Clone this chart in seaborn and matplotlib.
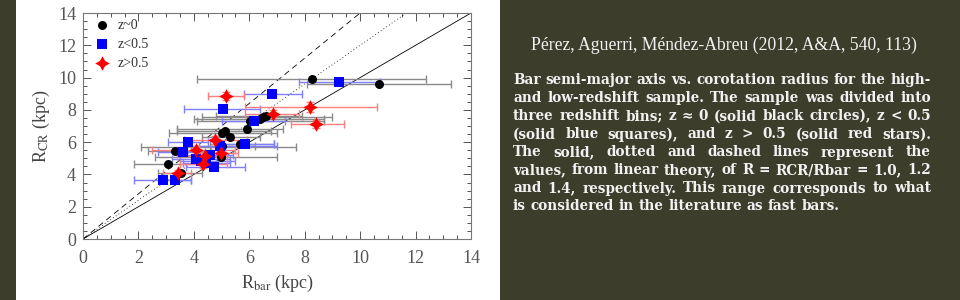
import numpy as np
import pandas as pd
import matplotlib
matplotlib.use("Agg")
import matplotlib.pyplot as plt
import seaborn as sns

# ---------------- data ----------------
# z ~ 0 (black circles)
z0_rbar = [8.27, 10.69, 6.01, 6.38, 6.50, 6.62, 5.91, 5.00, 5.14, 5.32, 4.89, 5.66, 5.02, 3.31, 4.98, 3.07, 3.53]
z0_rcr  = [9.94, 9.63, 7.33, 7.45, 7.58, 7.64, 6.83, 6.58, 6.71, 6.34, 5.72, 5.88, 5.78, 5.47, 5.09, 4.62, 4.06]
z0_lo   = [4.13, 8.10, 4.10, 4.00, 4.30, 4.80, 3.40, 3.10, 3.40, 4.30, 2.10, 4.60, 3.90, 2.35, 2.60, 1.85, 2.70]
z0_hi   = [12.37, 13.27, 8.70, 8.70, 9.00, 7.90, 7.20, 7.00, 6.80, 6.40, 7.70, 6.90, 6.20, 4.60, 7.00, 4.35, 4.30]

# z < 0.5 (blue squares)
z1_rbar = [9.25, 6.81, 5.04, 6.16, 3.80, 4.94, 5.86, 3.62, 4.60, 4.09, 4.24, 4.45, 4.73, 2.87, 3.32]
z1_rcr  = [9.73, 8.99, 8.03, 7.31, 5.98, 5.78, 5.86, 5.38, 5.20, 4.95, 4.83, 4.72, 4.43, 3.67, 3.64]
z1_lo   = [7.80, 5.80, 3.65, 5.00, 3.05, 4.20, 4.90, 2.70, 3.50, 3.20, 3.50, 3.60, 3.70, 1.85, 2.80]
z1_hi   = [10.70, 7.90, 6.40, 7.30, 4.50, 7.00, 6.90, 4.40, 5.40, 5.30, 5.50, 5.30, 5.85, 3.90, 3.90]

# z > 0.5 (red stars)
z2_rbar = [5.15, 8.19, 6.84, 8.40, 4.77, 4.06, 4.98, 4.39, 4.33, 3.41]
z2_rcr  = [8.84, 8.16, 7.77, 7.14, 6.13, 5.51, 5.34, 5.16, 4.64, 4.10]
z2_lo   = [4.50, 5.84, 5.85, 7.50, 3.65, 2.50, 4.20, 3.40, 3.50, 2.90]
z2_hi   = [5.80, 10.60, 7.80, 9.40, 5.90, 5.50, 5.60, 5.20, 5.20, 3.90]
z2_yerr = [0.25, 0.30, 0.20, 0.25, 0.25, 0.25, 0.25, 0.25, 0.25, 0.20]

labels = ["z~0", "z<0.5", "z>0.5"]
ratios = [1.0, 1.2, 1.4]
ticks = [0, 2, 4, 6, 8, 10, 12, 14]

title_text = "Pérez, Aguerri, Méndez-Abreu (2012, A&A, 540, 113)"
body_lines = [
    "Bar semi-major axis vs. corotation radius for the high-",
    "and low-redshift sample. The sample was divided into",
    "three redshift bins; z ≈ 0 (solid black circles), z < 0.5",
    "(solid blue squares), and z > 0.5 (solid red stars).",
    "The solid, dotted and dashed lines represent the",
    "values, from linear theory, of R = RCR/Rbar = 1.0, 1.2",
    "and 1.4, respectively. This range corresponds to what",
    "is considered in the literature as fast bars.",
]

# ---------------- figure ----------------
sns.set_theme(style="white")
plt.rcParams['font.family'] = ['Liberation Serif', 'DejaVu Serif']
plt.rcParams['mathtext.fontset'] = 'stix'

W, H = 960, 300
BG = "#3d3d2b"
fig = plt.figure(figsize=(9.6, 3.0), dpi=100, facecolor=BG)
# white panel behind the chart
fig.patches.append(matplotlib.patches.Rectangle((16 / W, 0), (500 - 16) / W, 1,
                                                transform=fig.transFigure, facecolor="white",
                                                edgecolor="none", zorder=-5))

ax = fig.add_axes([83 / W, 1 - 239 / H, (471 - 83) / W, (239 - 13) / H])
ax.set_zorder(2)
ax.set_facecolor("white")

# reference lines
xx = np.array([0, 14])
styles = ["-", (0, (1, 3)), (0, (7, 5))]
for r, ls in zip(ratios, styles):
    ax.plot(xx, r * xx, color="black", lw=0.6, ls=ls, zorder=1)

groups = [
    (z0_rbar, z0_rcr, z0_lo, z0_hi, None, "black", "#8a8a8a", "o", 42),
    (z1_rbar, z1_rcr, z1_lo, z1_hi, None, "#0000ff", "#7f7fff", "s", 42),
    (z2_rbar, z2_rcr, z2_lo, z2_hi, z2_yerr, "#ff0000", "#ff7f7f", (4, 1, 0), 110),
]
for (xs, ys, lo, hi, ye, col, ecol, mk, ms), lab in zip(groups, labels):
    xs = np.array(xs); ys = np.array(ys)
    xerr = np.vstack([xs - np.array(lo), np.array(hi) - xs])
    ax.errorbar(xs, ys, xerr=xerr, yerr=ye, fmt="none", ecolor=ecol, elinewidth=1.0,
                capsize=3, capthick=1.0, zorder=2)
    df = pd.DataFrame({"Rbar": xs, "Rcr": ys})
    sns.scatterplot(data=df, x="Rbar", y="Rcr", ax=ax, color=col, marker=mk, s=ms,
                    edgecolor=col, linewidth=0, label=lab, zorder=3)

ax.set_xlim(0, 14)
ax.set_ylim(0, 14)
ax.set_xticks(ticks)
ax.set_yticks(ticks)
ax.set_xticks(np.arange(0, 14.01, 0.5), minor=True)
ax.set_yticks(np.arange(0, 14.01, 0.5), minor=True)
ax.tick_params(which="both", direction="in", top=True, right=True, bottom=True, left=True,
               color="#555555", width=0.7)
ax.tick_params(which="major", length=6, labelsize=13, labelcolor="#555555", pad=8)
ax.tick_params(which="minor", length=3)
ax.tick_params(axis="y", which="major", pad=5)
for s in ax.spines.values():
    s.set_color("#777777")
    s.set_linewidth(0.8)

ax.set_xlabel(r"R$_{\rm bar}$ (kpc)", fontsize=13, color="#444444", labelpad=4)
ax.set_ylabel(r"R$_{\rm CR}$ (kpc)", fontsize=13, color="#444444", labelpad=4)

leg = ax.legend(loc="upper left", frameon=False, fontsize=10, handletextpad=0.1,
                borderaxespad=0.2, labelspacing=0.45, borderpad=0.2, markerscale=1.0)
for t in leg.get_texts():
    t.set_color("#333333")

# ---------------- right text panel ----------------
fig.text(724 / W, 1 - 45 / H, title_text, ha="center", va="center", fontsize=12.7,
         color="#f2f2f2", family=["Liberation Serif", "DejaVu Serif"])

fig.canvas.draw()
rend = fig.canvas.get_renderer()
x0, x1 = 513, 931
body_kw = dict(fontsize=9.8, color="#f2f2f2", fontweight="bold",
               family=["DejaVu Serif"], va="center", ha="left")
line_y = [80, 98, 116.5, 134.5, 152.5, 170.5, 188.5, 206.5]
space_w = None
for i, (line, yp) in enumerate(zip(body_lines, line_y)):
    words = line.split(" ")
    txts = [fig.text(0, 1 - yp / H, w, **body_kw) for w in words]
    widths = [t.get_window_extent(rend).width for t in txts]
    if space_w is None:
        sp = fig.text(0, 0, "a a", **body_kw)
        sa = fig.text(0, 0, "aa", **body_kw)
        space_w = sp.get_window_extent(rend).width - sa.get_window_extent(rend).width
        sp.remove(); sa.remove()
    if i == len(body_lines) - 1:
        gap = space_w
    else:
        gap = ((x1 - x0) - sum(widths)) / (len(words) - 1)
    xp = x0
    for t, w in zip(txts, widths):
        t.set_x(xp / W)
        xp += w + gap

fig.savefig("out.png", dpi=100, facecolor=BG)
